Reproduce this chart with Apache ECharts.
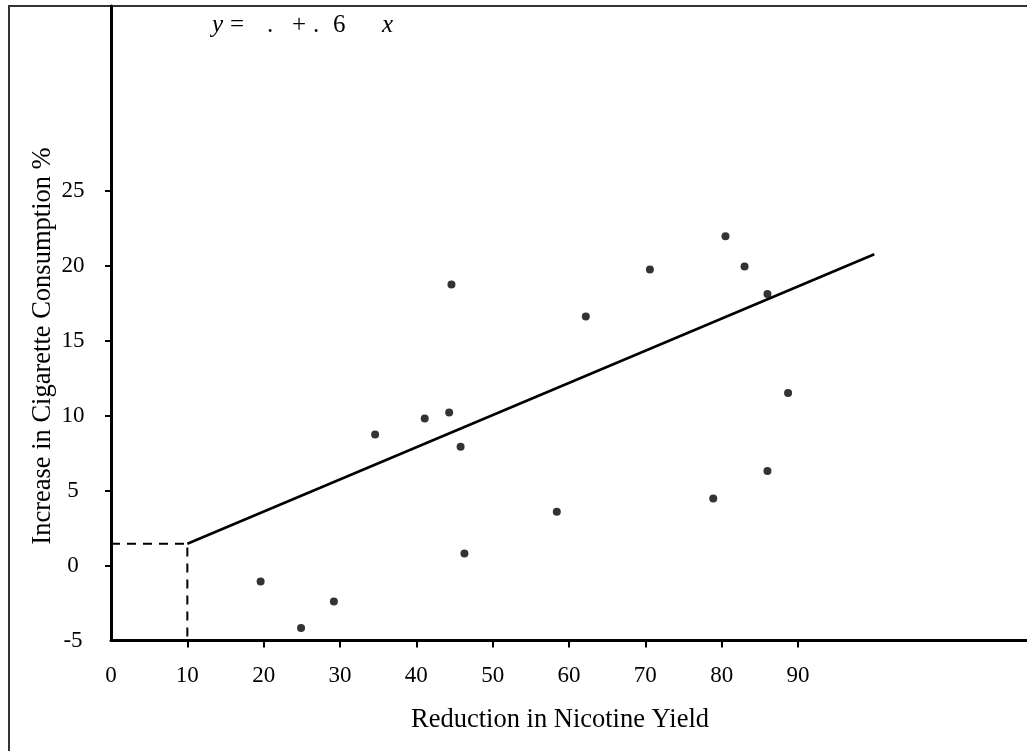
<!DOCTYPE html>
<html>
<head>
<meta charset="utf-8">
<script src="https://cdn.jsdelivr.net/npm/echarts@6/dist/echarts.min.js"></script>
<style>
  html, body { margin: 0; padding: 0; background: #fff; }
  #main { width: 1027px; height: 751px; }
</style>
</head>
<body>
<div id="main"></div>
<script>
// data
var nicotineReduction = [19.6, 24.9, 29.2, 34.6, 41.1, 44.3, 44.6, 45.8, 46.3, 58.4, 62.2, 70.6, 78.9, 80.5, 83.0, 86.0, 86.0, 88.7];
var consumptionIncrease = [-1.07, -4.16, -2.4, 8.73, 9.8, 10.2, 18.73, 7.91, 0.8, 3.58, 16.6, 19.73, 4.47, 21.95, 19.93, 18.1, 6.3, 11.5];

// fitted line end points
var fitX = [10, 100];
var fitY = [1.45, 20.75];

var xTickValues = [10, 20, 30, 40, 50, 60, 70, 80, 90];
var xLabelValues = [0, 10, 20, 30, 40, 50, 60, 70, 80, 90];
var yTickValues = [0, 5, 10, 15, 20, 25];
var yLabelValues = [-5, 0, 5, 10, 15, 20, 25];

var serif = '"Liberation Serif", "Times New Roman", serif';

var points = nicotineReduction.map(function (x, i) {
  return [x, consumptionIncrease[i]];
});
var fitLine = fitX.map(function (x, i) {
  return [x, fitY[i]];
});
// dashed guide from the y axis to the line start, then down to the x axis
var guide = [[0, fitY[0]], [fitX[0], fitY[0]], [fitX[0], -5]];

var chart = echarts.init(document.getElementById('main'));

chart.setOption({
  animation: false,
  backgroundColor: '#fff',
  grid: {
    left: 111,
    right: 0,
    top: 6,
    bottom: 110.5,
    containLabel: false,
    outerBoundsMode: 'none'
  },
  xAxis: {
    type: 'value',
    min: 0,
    max: 120,
    interval: 10,
    splitLine: { show: false },
    axisLine: { onZero: false, lineStyle: { color: '#000', width: 3 } },
    axisTick: {
      customValues: xTickValues,
      length: 7,
      lineStyle: { color: '#000', width: 2 }
    },
    axisLabel: {
      customValues: xLabelValues,
      margin: 24,
      color: '#000',
      fontFamily: serif,
      fontSize: 23
    }
  },
  yAxis: {
    type: 'value',
    min: -5,
    max: 37.3,
    interval: 5,
    splitLine: { show: false },
    axisLine: { onZero: false, lineStyle: { color: '#000', width: 3 } },
    axisTick: {
      customValues: yTickValues,
      length: 6,
      lineStyle: { color: '#000', width: 2 }
    },
    axisLabel: {
      customValues: yLabelValues,
      align: 'center',
      margin: 38,
      color: '#000',
      fontFamily: serif,
      fontSize: 23
    }
  },
  series: [
    {
      type: 'line',
      data: guide,
      showSymbol: false,
      symbol: 'none',
      lineStyle: { color: '#000', width: 2, type: [9, 7] },
      z: 1
    },
    {
      type: 'line',
      data: fitLine,
      showSymbol: false,
      symbol: 'none',
      lineStyle: { color: '#000', width: 2.5 },
      z: 2
    },
    {
      type: 'scatter',
      data: points,
      symbolSize: 8,
      itemStyle: { color: '#000' },
      z: 3
    }
  ],
  graphic: [
    // outer frame (left and top edges)
    {
      type: 'polyline',
      shape: { points: [[9, 751], [9, 6], [1027, 6]] },
      style: { stroke: '#333', lineWidth: 2, fill: null },
      silent: true
    },
    {
      type: 'text',
      x: 43,
      y: 346,
      rotation: Math.PI / 2,
      style: {
        text: 'Increase in Cigarette Consumption %',
        fill: '#000',
        font: '26.5px ' + serif,
        align: 'center',
        verticalAlign: 'middle'
      }
    },
    {
      type: 'text',
      x: 560,
      y: 720,
      style: {
        text: 'Reduction in Nicotine Yield',
        fill: '#000',
        font: '26.5px ' + serif,
        align: 'center',
        verticalAlign: 'middle'
      }
    },
    // regression equation (coefficient digits missing in the original)
    { type: 'text', x: 212, y: 25, style: { text: 'y', fill: '#000', font: 'italic 25px ' + serif, verticalAlign: 'middle' } },
    { type: 'text', x: 230, y: 25, style: { text: '=', fill: '#000', font: '25px ' + serif, verticalAlign: 'middle' } },
    { type: 'text', x: 267, y: 25, style: { text: '.', fill: '#000', font: '25px ' + serif, verticalAlign: 'middle' } },
    { type: 'text', x: 292, y: 25, style: { text: '+', fill: '#000', font: '25px ' + serif, verticalAlign: 'middle' } },
    { type: 'text', x: 313, y: 25, style: { text: '.', fill: '#000', font: '25px ' + serif, verticalAlign: 'middle' } },
    { type: 'text', x: 333, y: 25, style: { text: '6', fill: '#000', font: '25px ' + serif, verticalAlign: 'middle' } },
    { type: 'text', x: 382, y: 25, style: { text: 'x', fill: '#000', font: 'italic 25px ' + serif, verticalAlign: 'middle' } }
  ]
});
</script>
</body>
</html>
